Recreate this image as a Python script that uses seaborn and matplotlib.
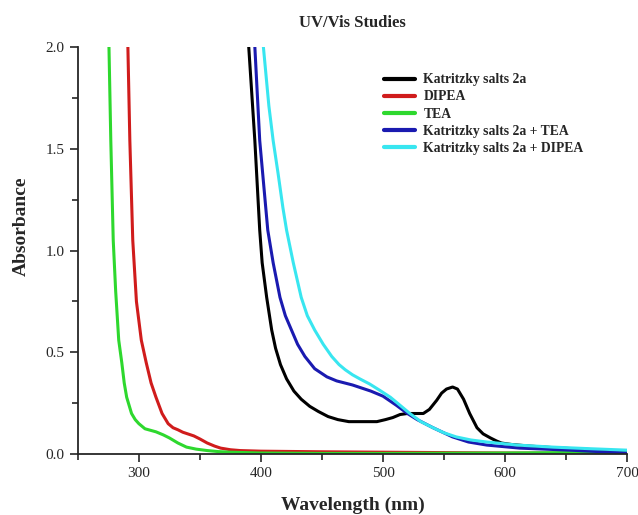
import pandas as pd
import matplotlib.pyplot as plt
import seaborn as sns
from matplotlib.ticker import MultipleLocator

# ============================
# 데이터 (스펙트럼에서 읽은 값)
# ============================
salt_wl = [387, 390, 395, 399, 401, 404.7, 408.8, 412, 416, 421, 427, 433, 440, 447, 455, 463, 472,
           482, 495, 502, 508, 514, 520, 527, 533, 538, 544, 548, 552, 557, 561, 566, 571,
           577, 582, 588, 593, 597, 605, 620, 640, 660, 680, 700]
salt_abs = [2.3, 2.0, 1.54, 1.10, 0.94, 0.77, 0.61, 0.52, 0.44, 0.37, 0.31, 0.27, 0.235, 0.21, 0.185, 0.17, 0.16,
            0.16, 0.16, 0.17, 0.18, 0.195, 0.20, 0.20, 0.20, 0.22, 0.265, 0.30, 0.32, 0.33, 0.32, 0.27, 0.20,
            0.13, 0.10, 0.08, 0.065, 0.055, 0.048, 0.04, 0.032, 0.026, 0.02, 0.015]

dipea_wl = [289, 291, 292.6, 295, 298, 302, 306, 310, 314, 319, 324, 328, 332, 336, 340, 345,
            350, 356, 362, 367, 375, 383, 400, 450, 500, 550, 600, 650, 700]
dipea_abs = [2.3, 2.0, 1.54, 1.05, 0.75, 0.56, 0.45, 0.35, 0.28, 0.2, 0.15, 0.13, 0.12, 0.108, 0.1, 0.09,
             0.075, 0.055, 0.04, 0.03, 0.022, 0.018, 0.015, 0.012, 0.01, 0.008, 0.006, 0.005, 0.004]

tea_wl = [274.5, 275.5, 277, 279, 281, 283.5, 286, 288, 290, 294, 297, 300, 305, 314, 320, 325,
          332, 339, 347, 356, 365, 375, 400, 450, 500, 550, 600, 650, 700]
tea_abs = [2.3, 2.0, 1.54, 1.05, 0.8, 0.56, 0.45, 0.35, 0.28, 0.2, 0.17, 0.15, 0.125, 0.11, 0.095, 0.08,
           0.055, 0.035, 0.025, 0.018, 0.013, 0.01, 0.006, 0.004, 0.004, 0.005, 0.006, 0.008, 0.008]

salt_tea_wl = [392, 395, 399, 405.6, 410, 415.6, 420, 425, 430, 436, 444, 454, 462, 475, 490,
               500, 511, 520, 528, 541, 557, 570, 585, 612, 653, 680, 700]
salt_tea_abs = [2.3, 2.0, 1.54, 1.10, 0.94, 0.77, 0.68, 0.61, 0.54, 0.48, 0.42, 0.38, 0.36, 0.34, 0.31,
                0.285, 0.24, 0.20, 0.17, 0.13, 0.085, 0.06, 0.045, 0.03, 0.02, 0.012, 0.006]

salt_dipea_wl = [398, 402, 406.5, 410, 414, 418, 421, 426.5, 433, 438, 444, 451, 458, 464, 469, 475, 481, 489,
                 497, 506, 514, 522, 531, 541, 550, 560, 572, 585, 610, 639, 670, 700]
salt_dipea_abs = [2.4, 2.0, 1.71, 1.54, 1.38, 1.21, 1.10, 0.94, 0.77, 0.68, 0.61, 0.54, 0.48, 0.44, 0.415, 0.39, 0.37, 0.345,
                  0.315, 0.28, 0.24, 0.20, 0.16, 0.13, 0.105, 0.085, 0.07, 0.06, 0.045, 0.035, 0.027, 0.02]

series = [
    ("Katritzky salts 2a", salt_wl, salt_abs, "#000000"),
    ("DIPEA", dipea_wl, dipea_abs, "#d01c1c"),
    ("TEA", tea_wl, tea_abs, "#2ed82e"),
    ("Katritzky salts 2a + TEA", salt_tea_wl, salt_tea_abs, "#1a1ab0"),
    ("Katritzky salts 2a + DIPEA", salt_dipea_wl, salt_dipea_abs, "#38e6f0"),
]

# ============================
# 스타일
# ============================
sns.set_style("ticks")
plt.rcParams["font.family"] = ["Liberation Serif", "DejaVu Serif"]

fig, ax = plt.subplots(figsize=(6.38, 5.15), dpi=100)
fig.subplots_adjust(left=0.122, right=0.983, bottom=0.118, top=0.909)

for name, wl, ab, color in series:
    df = pd.DataFrame({"wl": wl, "abs": ab})
    sns.lineplot(data=df, x="wl", y="abs", ax=ax, color=color,
                 linewidth=2.2, label=name, sort=False)

ax.set_xlim(250, 700)
ax.set_ylim(0, 2.0)
ax.xaxis.set_major_locator(MultipleLocator(100))
ax.xaxis.set_minor_locator(MultipleLocator(50))
ax.yaxis.set_major_locator(MultipleLocator(0.5))
ax.yaxis.set_minor_locator(MultipleLocator(0.25))
ax.tick_params(which="major", direction="out", length=6, width=1.2, labelsize=11)
ax.tick_params(which="minor", direction="out", length=4, width=1.2)
ax.set_xticks([300, 400, 500, 600, 700])

for side in ["top", "right"]:
    ax.spines[side].set_visible(False)
for side in ["left", "bottom"]:
    ax.spines[side].set_linewidth(1.3)

ax.set_title("UV/Vis Studies", fontsize=12, fontweight="bold", pad=14)
ax.set_xlabel("Wavelength (nm)", fontsize=14, fontweight="bold", labelpad=12)
ax.set_ylabel("Absorbance", fontsize=14, fontweight="bold")
ax.yaxis.set_label_coords(-0.088, 0.56)

leg = ax.legend(loc="upper left", bbox_to_anchor=(0.535, 0.965), frameon=False,
                prop={"weight": "bold", "size": 9.8}, handlelength=2.3,
                handletextpad=0.6, labelspacing=0.3)
for line in leg.get_lines():
    line.set_linewidth(3)

fig.savefig("out.png", dpi=100)
